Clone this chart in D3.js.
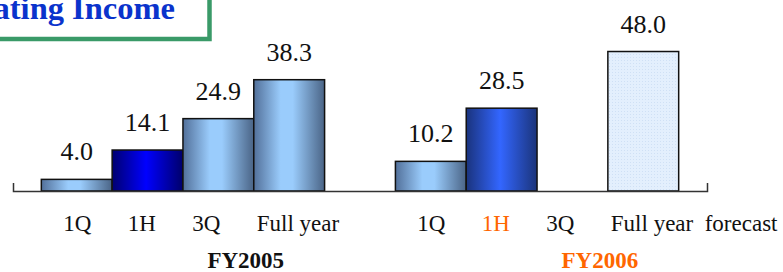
<!DOCTYPE html>
<html>
<head>
<meta charset="utf-8">
<script src="https://cdn.jsdelivr.net/npm/d3@7"></script>
<style>
html,body{margin:0;padding:0;background:#fff;overflow:hidden;}
svg{display:block;}
</style>
</head>
<body>
<svg id="chart" width="783" height="272"></svg>
<script>
// ---- data ----
const title = "Operating Income";
const fiscalYears = ["FY2005", "FY2006"];
const fy2005Periods = ["1Q", "1H", "3Q", "Full year"];
const fy2005Values = [4.0, 14.1, 24.9, 38.3];
const fy2006Periods = ["1Q", "1H", "3Q", "Full year  forecast"];
const fy2006Values = [10.2, 28.5, null, 48.0];

// ---- layout ----
const W = 783, H = 272;
const svg = d3.select("#chart");
const axisY = 191;
const serif = "'Liberation Serif','Times New Roman',Times,serif";

const keys = [];
fy2005Periods.forEach((p, i) => keys.push("FY2005|" + i));
keys.push("gap");
fy2006Periods.forEach((p, i) => keys.push("FY2006|" + i));

const x = d3.scaleBand().domain(keys).range([13, 707]).paddingInner(0).paddingOuter(0.4);
const y = d3.scaleLinear().domain([0, 50]).range([axisY, axisY - 145.3]);

const bars = [];
fy2005Values.forEach((v, i) => bars.push({key: "FY2005|" + i, fy: "FY2005", i, v, style: i === 1 ? "blue2005" : "steel"}));
fy2006Values.forEach((v, i) => { if (v != null) bars.push({key: "FY2006|" + i, fy: "FY2006", i, v, style: i === 1 ? "blue2006" : (i === 3 ? "forecast" : "steel")}); });

// ---- defs ----
const defs = svg.append("defs");
function hgrad(id, stops) {
  const g = defs.append("linearGradient").attr("id", id).attr("x1", "0").attr("x2", "1").attr("y1", "0").attr("y2", "0");
  stops.forEach(s => g.append("stop").attr("offset", s[0]).attr("stop-color", s[1]));
}
hgrad("steel", [["0%", "#52709a"], ["38%", "#9accfc"], ["55%", "#9accfc"], ["100%", "#4a6486"]]);
hgrad("blue2005", [["0%", "#000070"], ["48%", "#0000ff"], ["100%", "#00006a"]]);
hgrad("blue2006", [["0%", "#1a337d"], ["48%", "#3366ff"], ["100%", "#1b347a"]]);
const pat = defs.append("pattern").attr("id", "forecast").attr("patternUnits", "userSpaceOnUse").attr("width", 3).attr("height", 3);
pat.append("rect").attr("width", 3).attr("height", 3).attr("fill", "#e3effd");
pat.append("rect").attr("width", 1).attr("height", 1).attr("fill", "#cfe0f5");

// ---- title box ----
svg.append("rect").attr("x", -200).attr("y", -20).attr("width", 409.5).attr("height", 59)
  .attr("fill", "#fff").attr("stroke", "#3a9a68").attr("stroke-width", 4.5);
svg.append("text").attr("x", 175).attr("y", 19).attr("text-anchor", "end")
  .style("font-family", serif).attr("font-weight", "bold")
  .attr("font-size", 32.5).attr("fill", "#0a33cc").text(title);

// ---- bars ----
const g = svg.append("g");
g.selectAll("rect.bar").data(bars).enter().append("rect")
  .attr("class", "bar")
  .attr("x", d => x(d.key))
  .attr("width", x.bandwidth())
  .attr("y", d => y(d.v))
  .attr("height", d => y(0) - y(d.v))
  .attr("fill", d => "url(#" + d.style + ")")
  .attr("stroke", "#111")
  .attr("stroke-width", 1.5);

g.selectAll("text.val").data(bars).enter().append("text")
  .attr("class", "val")
  .attr("x", d => x(d.key) + x.bandwidth() / 2)
  .attr("y", d => y(d.v) - 19)
  .attr("text-anchor", "middle")
  .style("font-family", serif)
  .attr("font-size", 26).attr("fill", "#111")
  .text(d => d3.format(".1f")(d.v));

// ---- axis ----
const axis = d3.axisBottom(x).tickValues([]).tickSizeInner(0).tickSizeOuter(-8);
const ax = svg.append("g").attr("transform", `translate(0,${axisY})`).call(axis);
ax.select(".domain").attr("stroke", "#333").attr("stroke-width", 1.5);

// ---- period labels ----
const labelStep = 64.5;
function periodLabels(fy, periods) {
  const start = x(fy + "|0") + x.bandwidth() / 2 - 13.5;
  svg.append("g").selectAll("text").data(periods).enter().append("text")
    .attr("x", (d, i) => start + i * labelStep)
    .attr("y", 231)
    .attr("xml:space", "preserve")
    .style("white-space", "pre")
    .style("font-family", serif)
    .attr("font-size", 23)
    .attr("fill", (d, i) => (fy === "FY2006" && i === 1) ? "#ff6600" : "#111")
    .text(d => d);
}
periodLabels("FY2005", fy2005Periods);
periodLabels("FY2006", fy2006Periods);

// ---- fiscal year labels ----
svg.append("g").selectAll("text").data(fiscalYears).enter().append("text")
  .attr("x", d => x(d + "|3") - 8)
  .attr("y", 268)
  .attr("text-anchor", "middle")
  .style("font-family", serif)
  .attr("font-weight", "bold").attr("font-size", 23)
  .attr("fill", d => d === "FY2006" ? "#ff6600" : "#111")
  .text(d => d);
</script>
</body>
</html>
